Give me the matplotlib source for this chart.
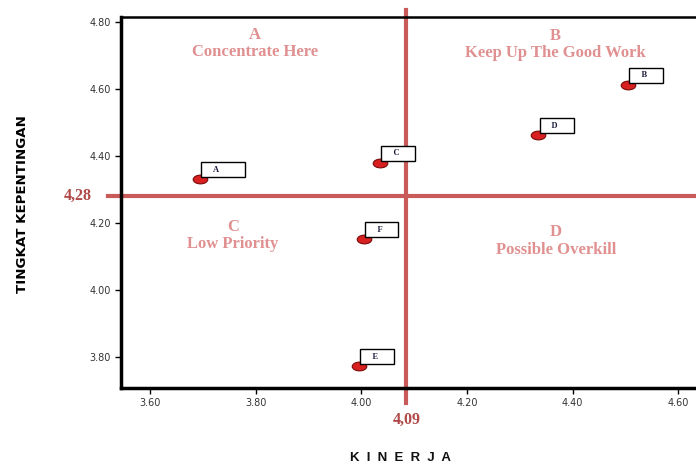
import matplotlib
matplotlib.use("Agg")
import matplotlib.pyplot as plt
from matplotlib.path import Path
from matplotlib.transforms import Affine2D

# atribut, kinerja (x), kepentingan (y)
atribut = ["A", "B", "C", "D", "E", "F"]
kinerja = [3.694, 4.505, 4.035, 4.335, 3.995, 4.005]
kepentingan = [4.330, 4.613, 4.380, 4.462, 3.772, 4.151]

x_rata = 4.085
y_rata = 4.28
label_x_rata = "4,09"
label_y_rata = "4,28"

xticks = [3.60, 3.80, 4.00, 4.20, 4.40, 4.60]
yticks = [3.80, 4.00, 4.20, 4.40, 4.60, 4.80]

kuadran = [
    ("A\nConcentrate Here", 3.798, 4.735),
    ("B\nKeep Up The Good Work", 4.368, 4.732),
    ("C\nLow Priority", 3.757, 4.163),
    ("D\nPossible Overkill", 4.368, 4.146),
]

merah_garis = "#C85A5A"
merah_teks = "#E09090"

fig = plt.figure(figsize=(6.96, 4.66), dpi=100)
ax = fig.add_axes([121/696, 78/466, (696-121)/696, 371/466])

ax.set_xlim(3.545, 4.6335)
ax.set_ylim(3.707, 4.815)

# garis rata-rata
ax.axvline(x_rata, ymin=-0.04, ymax=1.02, color=merah_garis, lw=3, clip_on=False, zorder=2)
ax.axhline(y_rata, xmin=-0.023, xmax=1, color=merah_garis, lw=3, clip_on=False, zorder=2)

# titik
elips = Path.unit_circle().transformed(Affine2D().scale(1, 0.6))
ax.scatter(kinerja, kepentingan, marker=elips, s=110, color="#D82020",
           edgecolor="#7A0A0A", linewidth=0.8, zorder=4)

for n, xv, yv in zip(atribut, kinerja, kepentingan):
    kanan = "           " if n == "A" else "      "
    ax.annotate("    " + n + kanan, (xv, yv), xytext=(3.5, 4), textcoords="offset points",
                ha="left", va="bottom", fontsize=6, fontweight="bold",
                family="Liberation Serif", color="#1a1a3a", zorder=5,
                bbox=dict(boxstyle="square,pad=0.42", fc="white", ec="black", lw=1))

for teks, xq, yq in kuadran:
    ax.text(xq, yq, teks, ha="center", va="center", fontsize=12, fontweight="bold",
            family="Liberation Serif", color=merah_teks, linespacing=1.1)

ax.text(-0.075, y_rata, label_y_rata, transform=ax.get_yaxis_transform(), ha="center",
        va="center", fontsize=11.5, fontweight="bold", family="Liberation Serif",
        color="#B04848")
ax.text(x_rata + 0.001, -0.085, label_x_rata, transform=ax.get_xaxis_transform(),
        ha="center", va="center", fontsize=11.5, fontweight="bold",
        family="Liberation Serif", color="#B04848")

ax.set_xticks(xticks)
ax.set_yticks(yticks)
ax.set_xticklabels([f"{t:.2f}" for t in xticks])
ax.set_yticklabels([f"{t:.2f}" for t in yticks])
ax.tick_params(labelsize=7, labelcolor="#333333", length=4, width=1, direction="out")

for s in ["left", "bottom"]:
    ax.spines[s].set_linewidth(2.5)
ax.spines["top"].set_linewidth(1.8)
ax.spines["right"].set_visible(False)

fig.text(22/696, 1 - 204/466, "TINGKAT KEPENTINGAN", rotation=90, ha="center", va="center",
         fontsize=9.6, fontweight="bold", family="DejaVu Sans", color="black")
fig.text(400/696, 1 - 458/466, "K  I  N  E  R  J  A", ha="center", va="center",
         fontsize=9.5, fontweight="bold", family="Liberation Sans", color="#111111")

fig.savefig("out.png", dpi=100)
